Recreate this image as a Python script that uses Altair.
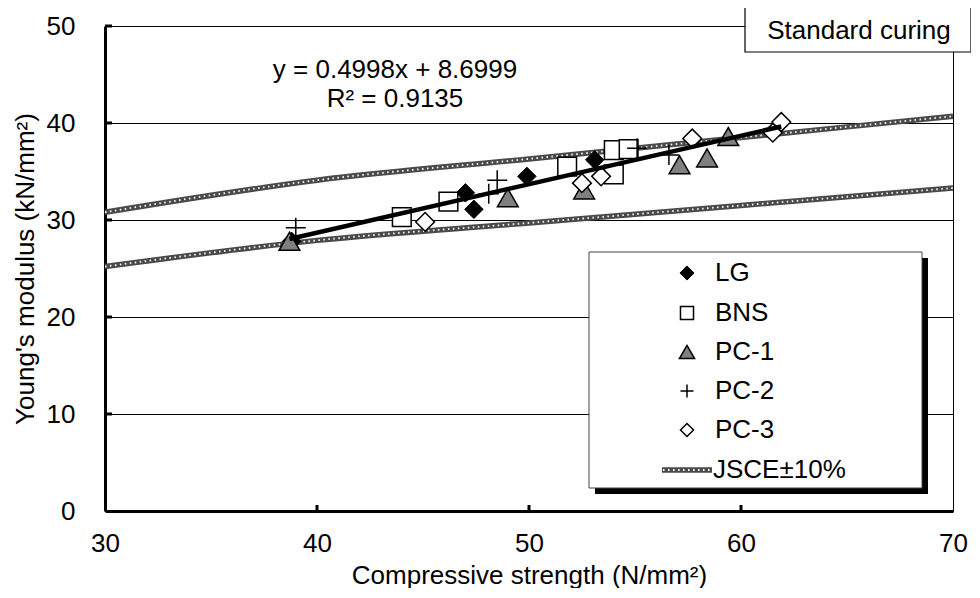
import altair as alt
import pandas as pd

# ---- data ----
series_names = ["LG", "BNS", "PC-1", "PC-2", "PC-3"]
x_lg = [38.8, 47.0, 47.4, 49.9, 53.1]
y_lg = [27.8, 32.8, 31.1, 34.5, 36.2]
x_bns = [44.0, 46.2, 51.8, 54.0, 54.7, 54.0]
y_bns = [30.3, 31.9, 35.5, 37.2, 37.3, 34.7]
x_pc1 = [38.7, 49.0, 52.6, 57.1, 58.4, 59.4]
y_pc1 = [27.8, 32.3, 33.1, 35.7, 36.4, 38.6]
x_pc2 = [39.0, 48.1, 48.5, 55.1, 56.6]
y_pc2 = [29.2, 32.7, 34.1, 37.4, 36.7]
x_pc3 = [45.1, 52.5, 53.4, 57.7, 61.5, 61.9]
y_pc3 = [29.8, 33.8, 34.5, 38.4, 39.0, 40.1]

jsce_fc = [30, 40, 50, 60, 70]
jsce_upper = [30.8, 34.1, 36.3, 38.5, 40.7]
jsce_lower = [25.2, 27.9, 29.7, 31.5, 33.3]

slope = 0.4998
intercept = 8.6999
eq_lines = ["y = 0.4998x + 8.6999", "R² = 0.9135"]
panel_title = "Standard curing"
legend_jsce = "JSCE±10%"

x_ticks = [30, 40, 50, 60, 70]
y_ticks = [0, 10, 20, 30, 40, 50]

FONT = "Liberation Sans"
FS = 26
W, H = 848, 485

xs = alt.Scale(domain=[30, 70], nice=False)
ys = alt.Scale(domain=[0, 50], nice=False)
xaxis = alt.Axis(values=x_ticks, title="Compressive strength (N/mm²)", grid=False,
                 tickSize=0, labelPadding=19, titlePadding=6, labelFlush=False)
yaxis = alt.Axis(values=y_ticks, title="Young's modulus (kN/mm²)", grid=True,
                 tickSize=0, labelPadding=30, titlePadding=8, labelFlush=False)
XE = alt.X("x:Q", scale=xs, axis=xaxis)
YE = alt.Y("y:Q", scale=ys, axis=yaxis)

one = pd.DataFrame({"k": [0]})

JGRAY = "#4a4a4a"

# JSCE band lines
jdf = pd.DataFrame({
    "x": jsce_fc + jsce_fc,
    "y": jsce_upper + jsce_lower,
    "band": ["upper"] * len(jsce_fc) + ["lower"] * len(jsce_fc),
})
jsce_base = alt.Chart(jdf).mark_line(color=JGRAY, strokeWidth=5.5, interpolate="monotone").encode(
    x=XE, y=YE, detail="band:N")
jsce_dots = alt.Chart(jdf).mark_line(color="white", strokeWidth=1.8, strokeDash=[1.5, 3.5],
                                     interpolate="monotone").encode(x=XE, y=YE, detail="band:N")

def pts(xv, yv):
    return pd.DataFrame({"x": xv, "y": yv})

cross = "M-1,0L1,0M0,-1L0,1"
styles = {
    "LG": dict(shape="diamond", filled=True, fill="black", stroke="black", strokeWidth=1),
    "BNS": dict(shape="square", filled=True, fill="white", stroke="black", strokeWidth=1.5),
    "PC-1": dict(shape="triangle-up", filled=True, fill="#808080", stroke="black", strokeWidth=1.5),
    "PC-2": dict(shape=cross, filled=False, stroke="black", strokeWidth=1.5),
    "PC-3": dict(shape="diamond", filled=True, fill="white", stroke="black", strokeWidth=1.5),
}
sizes = {"LG": 340, "BNS": 350, "PC-1": 430, "PC-2": 400, "PC-3": 350}
leg_sizes = {"LG": 200, "BNS": 170, "PC-1": 230, "PC-2": 170, "PC-3": 170}
data_xy = {"LG": (x_lg, y_lg), "BNS": (x_bns, y_bns), "PC-1": (x_pc1, y_pc1),
           "PC-2": (x_pc2, y_pc2), "PC-3": (x_pc3, y_pc3)}

point_layers = []
for name in series_names:
    xv, yv = data_xy[name]
    point_layers.append(
        alt.Chart(pts(xv, yv)).mark_point(size=sizes[name], opacity=1, **styles[name]).encode(x=XE, y=YE)
    )

all_x = x_lg + x_bns + x_pc1 + x_pc2 + x_pc3
rx = [min(all_x), max(all_x)]
rdf = pd.DataFrame({"x": rx, "y": [slope * v + intercept for v in rx]})
reg = alt.Chart(rdf).mark_line(color="black", strokeWidth=4.5).encode(x=XE, y=YE)

# inward ticks
ytk = alt.Chart(pd.DataFrame({"y": y_ticks[1:]})).mark_rule(color="black", strokeWidth=3).encode(
    x=alt.value(0), x2=alt.value(7), y=YE)
xtk = alt.Chart(pd.DataFrame({"x": x_ticks[1:-1]})).mark_rule(color="black", strokeWidth=3).encode(
    x=XE, y=alt.value(H), y2=alt.value(H - 6))

# equation
eq_layers = []
for i, t in enumerate(eq_lines):
    eq_layers.append(alt.Chart(one).mark_text(text=t, font=FONT, fontSize=FS, color="black",
                                              align="center", baseline="middle").encode(
        x=alt.value(290), y=alt.value(44 + 29 * i)))

# panel title box
tbox = alt.Chart(one).mark_rect(fill="white", stroke="black", strokeWidth=1.2).encode(
    x=alt.value(640), x2=alt.value(866), y=alt.value(-19), y2=alt.value(26))
ttext = alt.Chart(one).mark_text(text=panel_title, font=FONT, fontSize=FS, color="black",
                                 align="center", baseline="middle").encode(
    x=alt.value(754), y=alt.value(5))

# legend
lx0, lx1, ly0, ly1 = 484, 817, 226, 462
shadow = alt.Chart(one).mark_rect(fill="black").encode(
    x=alt.value(lx0 + 6), x2=alt.value(lx1 + 6), y=alt.value(ly0 + 6), y2=alt.value(ly1 + 6))
lbox = alt.Chart(one).mark_rect(fill="white", stroke="#444444", strokeWidth=1).encode(
    x=alt.value(lx0), x2=alt.value(lx1), y=alt.value(ly0), y2=alt.value(ly1))
leg_layers = [shadow, lbox]
row_y = [247, 287, 326, 365, 404, 444]
for i, name in enumerate(series_names):
    leg_layers.append(alt.Chart(one).mark_point(size=leg_sizes[name], opacity=1, **styles[name]).encode(
        x=alt.value(582), y=alt.value(row_y[i])))
    leg_layers.append(alt.Chart(one).mark_text(text=name, font=FONT, fontSize=FS, color="black",
                                               align="left", baseline="middle").encode(
        x=alt.value(610), y=alt.value(row_y[i])))
leg_layers.append(alt.Chart(one).mark_rule(color=JGRAY, strokeWidth=5.5).encode(
    x=alt.value(557), x2=alt.value(607), y=alt.value(row_y[5])))
leg_layers.append(alt.Chart(one).mark_rule(color="white", strokeWidth=1.8, strokeDash=[1.5, 3.5]).encode(
    x=alt.value(558), x2=alt.value(606), y=alt.value(row_y[5])))
leg_layers.append(alt.Chart(one).mark_text(text=legend_jsce, font=FONT, fontSize=FS, color="black",
                                           align="left", baseline="middle").encode(
    x=alt.value(608), y=alt.value(row_y[5])))

chart = alt.layer(
    jsce_base, jsce_dots, *point_layers, reg, ytk, xtk, *eq_layers, tbox, ttext, *leg_layers
).properties(
    width=W, height=H,
    autosize=alt.AutoSizeParams(type="none"),
    padding={"left": 97, "top": 18, "right": 18, "bottom": 77},
).configure_view(
    stroke="black", strokeWidth=1
).configure_axis(
    domainColor="black", domainWidth=3, gridColor="black", gridOpacity=1, gridWidth=1,
    labelFont=FONT, labelFontSize=FS, labelColor="black",
    titleFont=FONT, titleFontSize=FS, titleColor="black", titleFontWeight="normal",
)

chart.save("out.html", embed_options={"renderer": "svg", "actions": False})
